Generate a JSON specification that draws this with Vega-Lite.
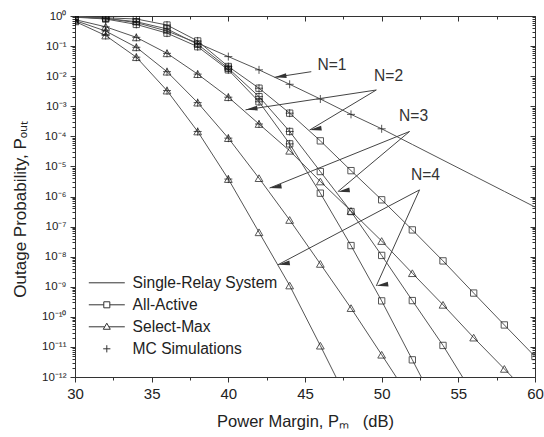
{
 "$schema": "https://vega.github.io/schema/vega-lite/v6.json",
 "width": 460, "height": 361,
 "autosize": "none",
 "padding": {"left": 75, "top": 16, "right": 9, "bottom": 60},
 "background": "white",
 "config": {
  "view": {"stroke": "#333", "strokeWidth": 1},
  "font": "Liberation Sans",
  "axis": {"domainColor": "#333", "tickColor": "#333", "labelColor": "#222", "titleColor": "#222", "grid": false, "titleFontWeight": "normal", "labelFont": "Liberation Sans", "titleFont": "Liberation Sans", "labelOverlap": false, "labelFlush": false, "tickWidth": 1, "domainWidth": 1}
 },
 "datasets": {
  "curves": [
   {"c":"N1","x":30,"p":0.933,"sim":0},{"c":"N1","x":32,"p":0.832,"sim":0},{"c":"N1","x":34,"p":0.603,"sim":0},{"c":"N1","x":36,"p":0.316,"sim":0},{"c":"N1","x":38,"p":0.126,"sim":0},{"c":"N1","x":40,"p":0.0447,"sim":1},{"c":"N1","x":42,"p":0.0162,"sim":1},{"c":"N1","x":44,"p":0.00537,"sim":1},{"c":"N1","x":46,"p":0.00174,"sim":1},{"c":"N1","x":48,"p":0.000537,"sim":1},{"c":"N1","x":50,"p":0.000178,"sim":1},{"c":"N1","x":52,"p":5.37e-5,"sim":0},{"c":"N1","x":54,"p":1.62e-5,"sim":0},{"c":"N1","x":56,"p":4.9e-6,"sim":0},{"c":"N1","x":58,"p":1.48e-6,"sim":0},{"c":"N1","x":60,"p":4.47e-7,"sim":0},
   {"c":"AA2","x":30,"p":0.955,"sim":1},{"c":"AA2","x":32,"p":0.871,"sim":1},{"c":"AA2","x":34,"p":0.794,"sim":1},{"c":"AA2","x":36,"p":0.501,"sim":1},{"c":"AA2","x":38,"p":0.148,"sim":1},{"c":"AA2","x":40,"p":0.0209,"sim":1},{"c":"AA2","x":42,"p":0.00398,"sim":1},{"c":"AA2","x":44,"p":0.000589,"sim":1},{"c":"AA2","x":46,"p":7.08e-5,"sim":0},{"c":"AA2","x":48,"p":7.24e-6,"sim":0},{"c":"AA2","x":50,"p":7.76e-7,"sim":0},{"c":"AA2","x":52,"p":7.76e-8,"sim":0},{"c":"AA2","x":54,"p":7.24e-9,"sim":0},{"c":"AA2","x":56,"p":6.17e-10,"sim":0},{"c":"AA2","x":58,"p":5.37e-11,"sim":0},{"c":"AA2","x":60,"p":4.79e-12,"sim":0},
   {"c":"AA3","x":30,"p":0.933,"sim":1},{"c":"AA3","x":32,"p":0.832,"sim":1},{"c":"AA3","x":34,"p":0.646,"sim":1},{"c":"AA3","x":36,"p":0.372,"sim":1},{"c":"AA3","x":38,"p":0.115,"sim":1},{"c":"AA3","x":40,"p":0.0182,"sim":1},{"c":"AA3","x":42,"p":0.00209,"sim":1},{"c":"AA3","x":44,"p":0.000145,"sim":1},{"c":"AA3","x":46,"p":6.76e-6,"sim":0},{"c":"AA3","x":48,"p":3.16e-7,"sim":0},{"c":"AA3","x":50,"p":1.1e-8,"sim":0},{"c":"AA3","x":52,"p":3.47e-10,"sim":0},{"c":"AA3","x":54,"p":1.12e-11,"sim":0},{"c":"AA3","x":56,"p":2.51e-13,"sim":0},
   {"c":"AA4","x":30,"p":0.912,"sim":1},{"c":"AA4","x":32,"p":0.794,"sim":1},{"c":"AA4","x":34,"p":0.525,"sim":1},{"c":"AA4","x":36,"p":0.269,"sim":1},{"c":"AA4","x":38,"p":0.0955,"sim":1},{"c":"AA4","x":40,"p":0.0162,"sim":1},{"c":"AA4","x":42,"p":0.00141,"sim":1},{"c":"AA4","x":44,"p":5.62e-5,"sim":1},{"c":"AA4","x":46,"p":1.29e-6,"sim":0},{"c":"AA4","x":48,"p":2.34e-8,"sim":0},{"c":"AA4","x":50,"p":3.39e-10,"sim":0},{"c":"AA4","x":52,"p":3.72e-12,"sim":0},{"c":"AA4","x":54,"p":3.98e-14,"sim":0},
   {"c":"SM2","x":30,"p":0.759,"sim":1},{"c":"SM2","x":32,"p":0.437,"sim":1},{"c":"SM2","x":34,"p":0.195,"sim":1},{"c":"SM2","x":36,"p":0.0575,"sim":1},{"c":"SM2","x":38,"p":0.0117,"sim":1},{"c":"SM2","x":40,"p":0.002,"sim":1},{"c":"SM2","x":42,"p":0.000257,"sim":1},{"c":"SM2","x":44,"p":3.31e-5,"sim":0},{"c":"SM2","x":46,"p":3.16e-6,"sim":0},{"c":"SM2","x":48,"p":3.31e-7,"sim":0},{"c":"SM2","x":50,"p":3.31e-8,"sim":0},{"c":"SM2","x":52,"p":2.82e-9,"sim":0},{"c":"SM2","x":54,"p":2.51e-10,"sim":0},{"c":"SM2","x":56,"p":2.04e-11,"sim":0},{"c":"SM2","x":58,"p":1.86e-12,"sim":0},{"c":"SM2","x":60,"p":1.66e-13,"sim":0},
   {"c":"SM3","x":30,"p":0.708,"sim":1},{"c":"SM3","x":32,"p":0.316,"sim":1},{"c":"SM3","x":34,"p":0.0912,"sim":1},{"c":"SM3","x":36,"p":0.0141,"sim":1},{"c":"SM3","x":38,"p":0.00132,"sim":1},{"c":"SM3","x":40,"p":8.71e-5,"sim":1},{"c":"SM3","x":42,"p":4.07e-6,"sim":0},{"c":"SM3","x":44,"p":1.66e-7,"sim":0},{"c":"SM3","x":46,"p":5.75e-9,"sim":0},{"c":"SM3","x":48,"p":1.95e-10,"sim":0},{"c":"SM3","x":50,"p":5.5e-12,"sim":0},{"c":"SM3","x":52,"p":1.51e-13,"sim":0},
   {"c":"SM4","x":30,"p":0.661,"sim":1},{"c":"SM4","x":32,"p":0.224,"sim":1},{"c":"SM4","x":34,"p":0.0427,"sim":1},{"c":"SM4","x":36,"p":0.00331,"sim":1},{"c":"SM4","x":38,"p":0.000145,"sim":1},{"c":"SM4","x":40,"p":3.8e-6,"sim":1},{"c":"SM4","x":42,"p":6.46e-8,"sim":0},{"c":"SM4","x":44,"p":1.1e-9,"sim":0},{"c":"SM4","x":46,"p":1.1e-11,"sim":0},{"c":"SM4","x":48,"p":1.0e-13,"sim":0}
  ],
  "arrows": [
   {"a":"N1","x":45.41,"p":0.0141,"x2":43.01,"p2":0.00912},
   {"a":"N2a","x":49.65,"p":0.00347,"x2":41.12,"p2":0.000759},
   {"a":"N2b","x":49.65,"p":0.00347,"x2":45.3,"p2":0.000162},
   {"a":"N3a","x":51.82,"p":0.000145,"x2":42.69,"p2":1.91e-6},
   {"a":"N3b","x":51.82,"p":0.000145,"x2":47.14,"p2":1.45e-6},
   {"a":"N4a","x":52.47,"p":1.66e-6,"x2":43.23,"p2":5.37e-9},
   {"a":"N4b","x":52.47,"p":1.66e-6,"x2":49.65,"p2":1.07e-9}
  ],
  "labels": [
   {"t":"N=1","x":46.76,"p":0.0234},
   {"t":"N=2","x":50.45,"p":0.0102},
   {"t":"N=3","x":52.08,"p":0.000477},
   {"t":"N=4","x":52.86,"p":5.2e-6}
  ],
  "legend": [
   {"s":"Single-Relay System"},{"s":"All-Active"},{"s":"Select-Max"},{"s":"MC Simulations"}
  ]
 },
 "data": {"name": "curves"},
 "layer": [
  {
   "mark": {"type": "line", "clip": true, "stroke": "#555", "strokeWidth": 1},
   "encoding": {
    "x": {"field": "x", "type": "quantitative", "scale": {"domain": [30, 60], "nice": false, "zero": false},
     "axis": {"orient": "bottom", "values": [30,32.5,35,37.5,40,42.5,45,47.5,50,52.5,55,57.5,60],
      "labelExpr": "datum.value % 5 == 0 ? format(datum.value, 'd') : ''",
      "tickSize": {"condition": {"test": "datum.value % 5 != 0", "value": 3}, "value": 5},
      "labelFontSize": 15, "labelPadding": 4,
      "title": "Power Margin, Pₘ\u00a0\u00a0\u00a0(dB)", "titleFontSize": 16.5, "titlePadding": 12}},
    "y": {"field": "p", "type": "quantitative", "scale": {"type": "log", "domain": [1e-12, 1], "nice": false},
     "axis": {"orient": "left",
      "values": [1e-12,2e-12,3e-12,4e-12,5e-12,6e-12,7e-12,8e-12,9e-12,1e-11,2e-11,3e-11,4e-11,5e-11,6e-11,7e-11,8e-11,9e-11,1e-10,2e-10,3e-10,4e-10,5e-10,6e-10,7e-10,8e-10,9e-10,1e-9,2e-9,3e-9,4e-9,5e-9,6e-9,7e-9,8e-9,9e-9,1e-8,2e-8,3e-8,4e-8,5e-8,6e-8,7e-8,8e-8,9e-8,1e-7,2e-7,3e-7,4e-7,5e-7,6e-7,7e-7,8e-7,9e-7,1e-6,2e-6,3e-6,4e-6,5e-6,6e-6,7e-6,8e-6,9e-6,1e-5,2e-5,3e-5,4e-5,5e-5,6e-5,7e-5,8e-5,9e-5,1e-4,2e-4,3e-4,4e-4,5e-4,6e-4,7e-4,8e-4,9e-4,1e-3,2e-3,3e-3,4e-3,5e-3,6e-3,7e-3,8e-3,9e-3,1e-2,2e-2,3e-2,4e-2,5e-2,6e-2,7e-2,8e-2,9e-2,0.1,0.2,0.3,0.4,0.5,0.6,0.7,0.8,0.9,1],
      "labelExpr": "abs(log(datum.value)/LN10 - round(log(datum.value)/LN10)) > 0.001 ? '' : '10' + (round(log(datum.value)/LN10) < 0 ? '⁻' : '') + (abs(round(log(datum.value)/LN10)) >= 10 ? '¹' + substring('⁰¹²³⁴⁵⁶⁷⁸⁹', abs(round(log(datum.value)/LN10)) - 10, abs(round(log(datum.value)/LN10)) - 9) : substring('⁰¹²³⁴⁵⁶⁷⁸⁹', abs(round(log(datum.value)/LN10)), abs(round(log(datum.value)/LN10)) + 1))",
      "tickSize": {"condition": {"test": "abs(log(datum.value)/LN10 - round(log(datum.value)/LN10)) > 0.001", "value": 3}, "value": 5},
      "labelFontSize": 11.5, "labelPadding": 4,
      "title": "Outage Probability, Pₒᵤₜ", "titleFontSize": 17, "titleX": -46, "titleY": 193, "titleAngle": -90, "titleBaseline": "bottom", "titleAlign": "center"}},
    "detail": {"field": "c", "type": "nominal"}
   }
  },
  {
   "transform": [{"filter": "indexof(datum.c, 'AA') == 0"}],
   "mark": {"type": "point", "shape": "square", "size": 40, "filled": false, "stroke": "#111", "strokeWidth": 1, "clip": true},
   "encoding": {
    "x": {"field": "x", "type": "quantitative",
     "axis": {"orient": "top", "values": [30,32.5,35,37.5,40,42.5,45,47.5,50,52.5,55,57.5,60], "labels": false, "domain": false, "title": null,
      "tickSize": {"condition": {"test": "datum.value % 5 != 0", "value": -3}, "value": -5}}},
    "y": {"field": "p", "type": "quantitative",
     "axis": {"orient": "right", "labels": false, "domain": false, "title": null,
      "values": [1e-12,2e-12,3e-12,4e-12,5e-12,6e-12,7e-12,8e-12,9e-12,1e-11,2e-11,3e-11,4e-11,5e-11,6e-11,7e-11,8e-11,9e-11,1e-10,2e-10,3e-10,4e-10,5e-10,6e-10,7e-10,8e-10,9e-10,1e-9,2e-9,3e-9,4e-9,5e-9,6e-9,7e-9,8e-9,9e-9,1e-8,2e-8,3e-8,4e-8,5e-8,6e-8,7e-8,8e-8,9e-8,1e-7,2e-7,3e-7,4e-7,5e-7,6e-7,7e-7,8e-7,9e-7,1e-6,2e-6,3e-6,4e-6,5e-6,6e-6,7e-6,8e-6,9e-6,1e-5,2e-5,3e-5,4e-5,5e-5,6e-5,7e-5,8e-5,9e-5,1e-4,2e-4,3e-4,4e-4,5e-4,6e-4,7e-4,8e-4,9e-4,1e-3,2e-3,3e-3,4e-3,5e-3,6e-3,7e-3,8e-3,9e-3,1e-2,2e-2,3e-2,4e-2,5e-2,6e-2,7e-2,8e-2,9e-2,0.1,0.2,0.3,0.4,0.5,0.6,0.7,0.8,0.9,1],
      "tickSize": {"condition": {"test": "abs(log(datum.value)/LN10 - round(log(datum.value)/LN10)) > 0.001", "value": -3}, "value": -5}}}
   }
  },
  {
   "transform": [{"filter": "indexof(datum.c, 'SM') == 0"}],
   "mark": {"type": "point", "shape": "triangle-up", "size": 60, "filled": false, "stroke": "#111", "strokeWidth": 1, "clip": true},
   "encoding": {
    "x": {"field": "x", "type": "quantitative", "axis": null},
    "y": {"field": "p", "type": "quantitative", "axis": null}
   }
  },
  {
   "transform": [{"filter": "datum.sim == 1"}],
   "mark": {"type": "point", "shape": "M-1,0H1M0,-1V1", "size": 64, "filled": false, "stroke": "#111", "strokeWidth": 1, "clip": true},
   "encoding": {
    "x": {"field": "x", "type": "quantitative", "axis": null},
    "y": {"field": "p", "type": "quantitative", "axis": null}
   }
  },
  {
   "data": {"name": "arrows"},
   "mark": {"type": "rule", "stroke": "#444", "strokeWidth": 1},
   "encoding": {
    "x": {"field": "x", "type": "quantitative", "axis": null},
    "y": {"field": "p", "type": "quantitative", "axis": null},
    "x2": {"field": "x2"},
    "y2": {"field": "p2"}
   }
  },
  {
   "data": {"name": "arrows"},
   "mark": {"type": "point", "shape": "M0,0L-2,-0.4L-2,0.4Z", "size": 144, "filled": true, "color": "#333", "opacity": 1, "strokeWidth": 0},
   "encoding": {
    "x": {"field": "x2", "type": "quantitative", "axis": null},
    "y": {"field": "p2", "type": "quantitative", "axis": null},
    "angle": {"field": "a", "type": "nominal", "legend": null,
     "scale": {"domain": ["N1","N2a","N2b","N3a","N3b","N4a","N4b"], "range": [171.3,171.3,149,158,140.1,152.1,114.3]}}
   }
  },
  {
   "data": {"name": "labels"},
   "mark": {"type": "text", "font": "Liberation Sans", "fontSize": 15.6, "color": "#333", "align": "center", "baseline": "middle"},
   "encoding": {
    "x": {"field": "x", "type": "quantitative", "axis": null},
    "y": {"field": "p", "type": "quantitative", "axis": null},
    "text": {"field": "t"}
   }
  },
  {
   "data": {"name": "legend"},
   "mark": {"type": "point", "opacity": 0, "filled": false},
   "encoding": {
    "shape": {"field": "s", "type": "nominal",
     "scale": {"domain": ["Single-Relay System","All-Active","Select-Max","MC Simulations"],
      "range": ["M-4,0H4", "M-4,0H-0.67M0.67,0H4M-0.67,-0.67H0.67V0.67H-0.67Z", "M-4,0H-0.46M0.46,0H4M-0.78,0.55L0.78,0.55L0,-0.8Z", "M-0.8,0H0.8M0,-0.8V0.8"]},
     "legend": {"orient": "none", "legendX": 24, "legendY": 259, "title": null, "padding": 0,
      "symbolSize": 81, "symbolStrokeWidth": 1, "symbolStrokeColor": "#333", "symbolFillColor": "transparent", "symbolOpacity": 1,
      "labelFontSize": 15.6, "labelFont": "Liberation Sans", "labelColor": "#222", "labelOffset": 18, "rowPadding": 5}}
   }
  }
 ],
 "resolve": {"axis": {"x": "independent", "y": "independent"}}
}
